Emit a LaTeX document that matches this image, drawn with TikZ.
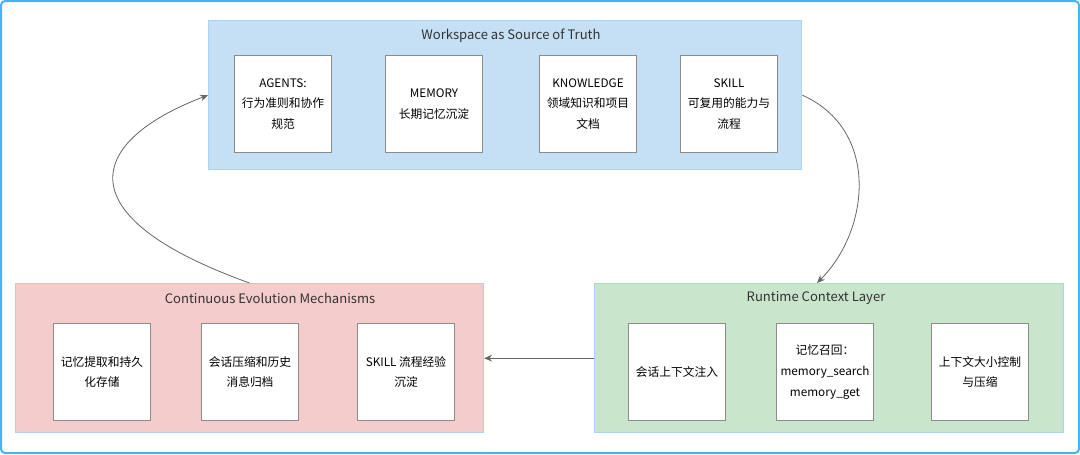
\documentclass[tikz,border=0pt]{standalone}
\usepackage{fontspec}
\setmainfont{Noto Sans CJK SC}
\usetikzlibrary{positioning}
\usetikzlibrary{arrows.meta}
\definecolor{wsBlue}{HTML}{C5E0F4}
\definecolor{evoRed}{HTML}{F4CCCC}
\definecolor{rtGreen}{HTML}{C9E6CD}
\definecolor{edgeBlue}{HTML}{A9D3F2}
\definecolor{frameBlue}{HTML}{45B4F2}
\tikzset{%
	% containers and their cards
	layer/.style = {rectangle, draw=edgeBlue, line width=0.8pt, anchor=north west},
	card/.style = {rectangle, draw=black!45, fill=white, line width=0.6pt,
		minimum width=73pt, minimum height=73pt, align=center,
		font=\fontsize{8.8pt}{15.5pt}\selectfont, inner sep=1pt},
	title/.style = {font=\fontsize{9.8pt}{11pt}\selectfont, text=black!80},
	flow/.style = {draw=black!60, line width=0.6pt, -{Stealth[length=6pt,width=5pt]}},
}
\begin{document}
\begin{tikzpicture}[x=0.75pt, y=-0.75pt]
	\draw[frameBlue, line width=1.5pt, rounded corners=3pt] (1,1) rectangle (1079,453);
	\useasboundingbox (0,0) rectangle (1080,454);
	
	\node (ws) [layer, fill=wsBlue, minimum width=445pt, minimum height=112pt] at (208,20) {};
	\node (evo) [layer, fill=evoRed, minimum width=351pt, minimum height=112pt] at (15,283) {};
	\node (rt) [layer, fill=rtGreen, minimum width=352pt, minimum height=112pt] at (594,283) {};
	\node [title] at (511,36) {Workspace as Source of Truth};
	\node [title] at (270,298) {Continuous Evolution Mechanisms};
	\node [title] at (816,298) {Runtime Context Layer};
	
	\node (agents) [card] at (283,104) {AGENTS:\\行为准则和协作\\规范};
	\node (memory) [card] at (434,104) {MEMORY\\长期记忆沉淀};
	\node (knowledge) [card] at (588,104) {KNOWLEDGE\\领域知识和项目\\文档};
	\node (skill) [card] at (729,104) {SKILL\\可复用的能力与\\流程};
	
	\node (extract) [card] at (102,372) {记忆提取和持久\\化存储};
	\node (archive) [card] at (250,372) {会话压缩和历史\\消息归档};
	\node (skillexp) [card] at (406,372) {SKILL 流程经验\\沉淀};
	
	\node (inject) [card] at (677,372) {会话上下文注入};
	\node (recall) [card] at (825,372) {记忆召回：\\memory\_search\\memory\_get};
	\node (ctxsize) [card] at (980,372) {上下文大小控制\\与压缩};
	
	\coordinate (rtIn) at (817,283);
	\draw [flow] (ws.east) .. controls (880,130) and (870,230) .. (rtIn);
	\draw [flow] (rt.west) -- (evo.east);
	\draw [flow] (evo.north) .. controls (60,215) and (90,140) .. (ws.west);
\end{tikzpicture}
\end{document}
